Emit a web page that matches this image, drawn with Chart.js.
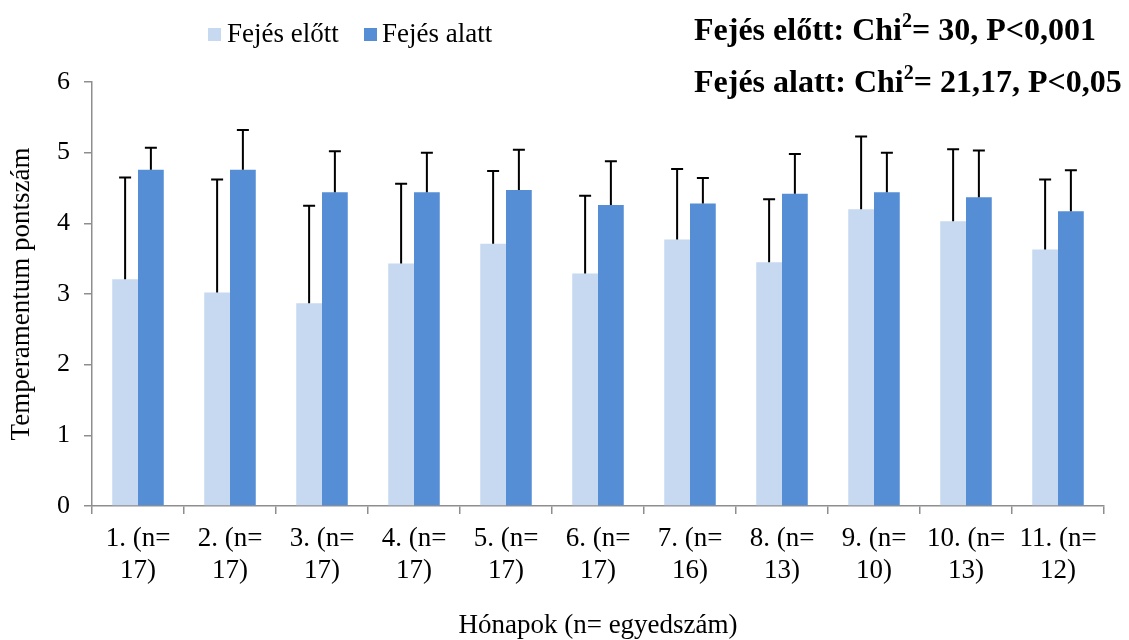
<!DOCTYPE html>
<html>
<head>
<meta charset="utf-8">
<title>Temperamentum pontszám</title>
<script src="https://cdn.jsdelivr.net/npm/chart.js@4.4.1/dist/chart.umd.min.js"></script>
<style>
    html, body { margin: 0; padding: 0; background: #ffffff; }
    #wrap { width: 1129px; height: 640px; position: relative; }
</style>
</head>
<body>
<div id="wrap"><canvas id="chartTemp"></canvas></div>
<script>
'use strict';

/* Hónapok (n= egyedszám) */
var HONAPOK = [
    ['1. (n=', '17)'], ['2. (n=', '17)'], ['3. (n=', '17)'], ['4. (n=', '17)'],
    ['5. (n=', '17)'], ['6. (n=', '17)'], ['7. (n=', '16)'], ['8. (n=', '13)'],
    ['9. (n=', '10)'], ['10. (n=', '13)'], ['11. (n=', '12)']
];

/* átlagok */
var ELOTT = [3.21, 3.02, 2.87, 3.43, 3.71, 3.29, 3.77, 3.45, 4.20, 4.03, 3.63];
var ALATT = [4.76, 4.76, 4.44, 4.44, 4.47, 4.26, 4.28, 4.42, 4.44, 4.37, 4.17];

/* szórás (csak felfelé rajzolva) */
var ELOTT_SD = [1.44, 1.60, 1.38, 1.13, 1.03, 1.10, 1.00, 0.89, 1.03, 1.02, 0.99];
var ALATT_SD = [0.31, 0.56, 0.58, 0.56, 0.57, 0.62, 0.36, 0.56, 0.56, 0.66, 0.58];

var Y_TICKS = [0, 1, 2, 3, 4, 5, 6];

var C_ELOTT = '#c6d9f1';
var C_ALATT = '#558ed5';
var AXIS    = '#8e8e8e';
var SERIF   = "'Liberation Serif', 'Times New Roman', serif";

Chart.defaults.font.family = SERIF;
Chart.defaults.color = '#000000';

/* Hibasávok: függőleges vonal + kupak */
var errorBarPlugin = {
    id: 'errorBars',
    afterDatasetsDraw: function (chart) {
        var ctx = chart.ctx;
        var y   = chart.scales.y;
        var sds = [ELOTT_SD, ALATT_SD];
        ctx.save();
        ctx.strokeStyle = '#000000';
        ctx.lineWidth   = 2;
        chart.data.datasets.forEach(function (ds, di) {
            var meta = chart.getDatasetMeta(di);
            meta.data.forEach(function (bar, i) {
                var top = y.getPixelForValue(ds.data[i] + sds[di][i]);
                ctx.beginPath();
                ctx.moveTo(bar.x, bar.y);
                ctx.lineTo(bar.x, top);
                ctx.moveTo(bar.x - 6, top);
                ctx.lineTo(bar.x + 6, top);
                ctx.stroke();
            });
        });
        ctx.restore();
    }
};

/* Jelmagyarázat + Chi² szövegek */
var headerPlugin = {
    id: 'header',
    afterDraw: function (chart) {
        var ctx = chart.ctx;
        ctx.save();

        ctx.font = '27px ' + SERIF;
        ctx.textBaseline = 'alphabetic';
        ctx.fillStyle = C_ELOTT;
        ctx.fillRect(208, 28, 13, 13);
        ctx.fillStyle = '#000000';
        ctx.fillText('Fejés előtt', 227, 42);
        ctx.fillStyle = C_ALATT;
        ctx.fillRect(364, 28, 13, 13);
        ctx.fillStyle = '#000000';
        ctx.fillText('Fejés alatt', 382, 42);

        function chiLine(pre, post, x, base) {
            ctx.font = 'bold 32px ' + SERIF;
            ctx.fillText(pre, x, base);
            x += ctx.measureText(pre).width;
            ctx.font = 'bold 20px ' + SERIF;
            ctx.fillText('2', x, base - 13);
            x += ctx.measureText('2').width;
            ctx.font = 'bold 32px ' + SERIF;
            ctx.fillText(post, x, base);
        }
        chiLine('Fejés előtt: Chi', '= 30, P<0,001', 694, 40);
        chiLine('Fejés alatt: Chi', '= 21,17, P<0,05', 694, 92);

        ctx.restore();
    }
};

new Chart(document.getElementById('chartTemp'), {
    type: 'bar',
    data: {
        labels: HONAPOK,
        datasets: [
            { label: 'Fejés előtt', data: ELOTT, backgroundColor: C_ELOTT },
            { label: 'Fejés alatt', data: ALATT, backgroundColor: C_ALATT }
        ]
    },
    options: {
        responsive: true,
        maintainAspectRatio: false,
        animation: false,
        datasets: { bar: { categoryPercentage: 0.56, barPercentage: 1.0 } },
        layout: { padding: { top: 82, right: 25, left: 0, bottom: 0 } },
        plugins: {
            legend:  { display: false },
            tooltip: { enabled: false }
        },
        scales: {
            x: {
                grid:   { drawOnChartArea: false, tickLength: 8, color: AXIS, lineWidth: 1.5 },
                border: { color: AXIS, width: 1.5 },
                ticks:  { font: { size: 27, lineHeight: 1.18 }, padding: 9, maxRotation: 0, autoSkip: false },
                title:  { display: true, text: 'Hónapok (n= egyedszám)', font: { size: 27 }, padding: { bottom: -2 } },
                afterFit: function (s) { s.height = 134; }
            },
            y: {
                min: 0,
                max: 6,
                afterBuildTicks: function (s) {
                    s.ticks = Y_TICKS.map(function (v) { return { value: v }; });
                },
                grid:   { drawOnChartArea: false, tickLength: 8, color: AXIS, lineWidth: 1.5 },
                border: { color: AXIS, width: 1.5 },
                ticks:  { font: { size: 26 }, padding: 14 },
                title:  { display: true, text: 'Temperamentum pontszám', font: { size: 27 }, padding: { top: 6 } },
                afterFit: function (s) { s.width = 92; }
            }
        }
    },
    plugins: [errorBarPlugin, headerPlugin]
});
</script>
</body>
</html>
